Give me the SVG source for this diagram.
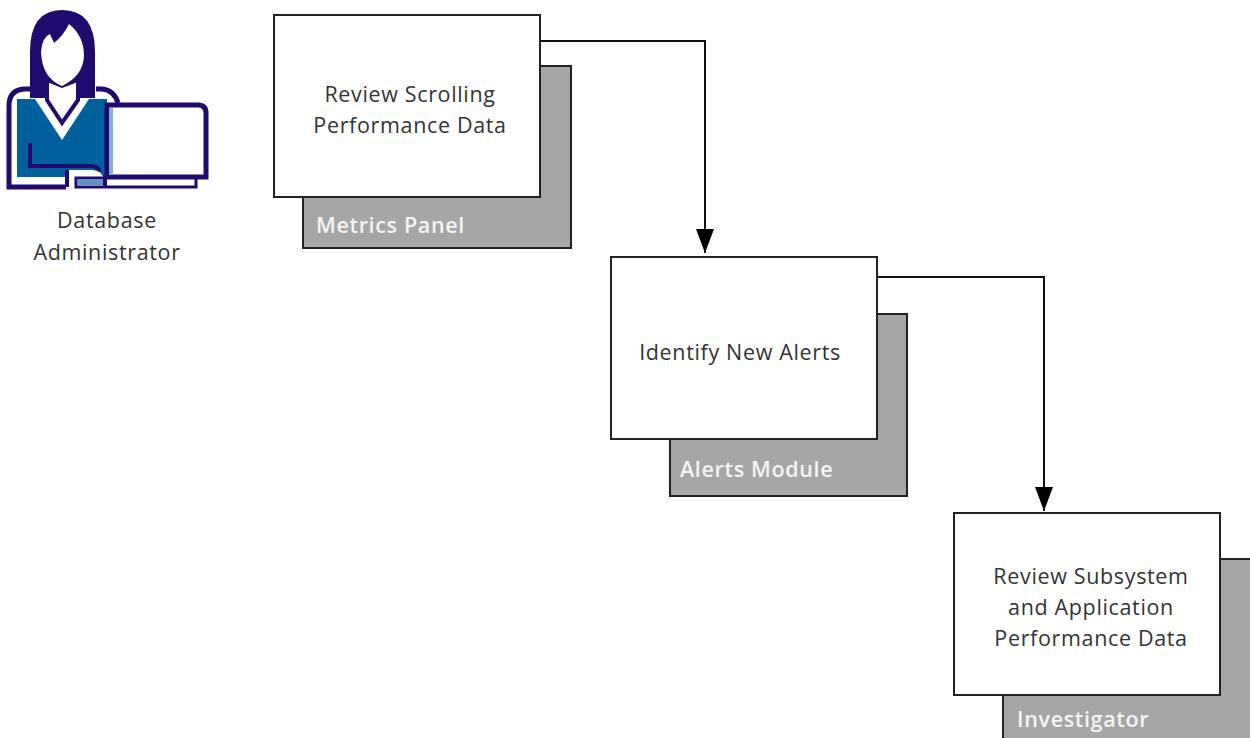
<svg xmlns="http://www.w3.org/2000/svg" width="1250" height="738" viewBox="0 0 1250 738">
<style>
text{font-family:"Open Sans","Noto Sans","Liberation Sans",sans-serif;font-size:21.5px;letter-spacing:.65px;text-anchor:middle;fill:#333}
.t{fill:#fff;stroke:#222;stroke-width:2}
.s{fill:#a6a6a6;stroke:#222;stroke-width:2}
text.l{fill:#f4f4f4;font-weight:600;text-anchor:start}
.c{fill:none;stroke:#111;stroke-width:2}
.o{fill:none;stroke:#200a6e;stroke-width:5}
.i{fill:none;stroke:#200a6e;stroke-width:4}
</style>
<defs><marker id="a" markerUnits="userSpaceOnUse" markerWidth="24" markerHeight="18" refX="24" refY="9" orient="auto" viewBox="0 0 24 18"><path d="M0 0L24 9L0 18Z" fill="#000"/></marker></defs>
<rect width="1250" height="738" fill="#fff"/>
<g id="person">
<path d="M17 99H107V177H17Z" fill="#00609c"/>
<path d="M35 99L62 140L89 99Z" fill="#fff"/>
<path d="M47 82V100L62 123L78 100V82" fill="#fff" stroke="#200a6e" stroke-width="4"/>
<path d="M30 98V52Q30 10 62 10Q95 10 95 52V98H78V82L62 88L47 82V98Z" fill="#200a6e"/>
<path d="M41 52Q42 37 50 34L54 43Q63 36 69 24Q84 36 84 56Q83 76 62 86Q42 78 41 52Z" fill="#fff"/>
<path d="M30 89H24Q9 90 9 106V187H66M96 89H102Q114 90 118 103" class="o"/>
<path d="M30 143V166H90Q98 166 100 172" class="i"/>
<path d="M66 170H92Q102 170 104 180V188H66Z" fill="#fff"/>
<path d="M67 187V170" class="i"/>
<path d="M107 105H198Q206 105 206 113V177H107Z" fill="#fff" stroke="#200a6e" stroke-width="5"/>
<path d="M109 108H113V175H109Z" fill="#7fb0d6"/>
<path d="M76 178H196V187H76Z" fill="#fff" stroke="#200a6e" stroke-width="3"/>
<path d="M78 179H103V185H78Z" fill="#5c94c4"/>
<path d="M105 175V187" class="i"/>
<text x="107" y="228">Database</text>
<text x="107" y="260">Administrator</text>
</g>
<g id="connectors">
<path class="c" d="M541 41H705V253" marker-end="url(#a)"/>
<path class="c" d="M878 277H1044V511" marker-end="url(#a)"/>
</g>
<g id="node-1">
<rect class="s" x="303" y="66" width="268" height="182"/>
<rect class="t" x="274" y="15" width="266" height="182"/>
<text x="410" y="102">Review Scrolling</text>
<text x="410" y="133">Performance Data</text>
<text class="l" x="316" y="233">Metrics Panel</text>
</g>
<g id="node-2">
<rect class="s" x="670" y="314" width="237" height="182"/>
<rect class="t" x="611" y="257" width="266" height="182"/>
<text x="740" y="360">Identify New Alerts</text>
<text class="l" x="680" y="477">Alerts Module</text>
</g>
<g id="node-3">
<rect class="s" x="1003" y="559" width="260" height="190"/>
<rect class="t" x="954" y="513" width="266" height="182"/>
<text x="1091" y="584">Review Subsystem</text>
<text x="1091" y="615">and Application</text>
<text x="1091" y="646">Performance Data</text>
<text class="l" x="1017" y="727">Investigator</text>
</g>
</svg>
